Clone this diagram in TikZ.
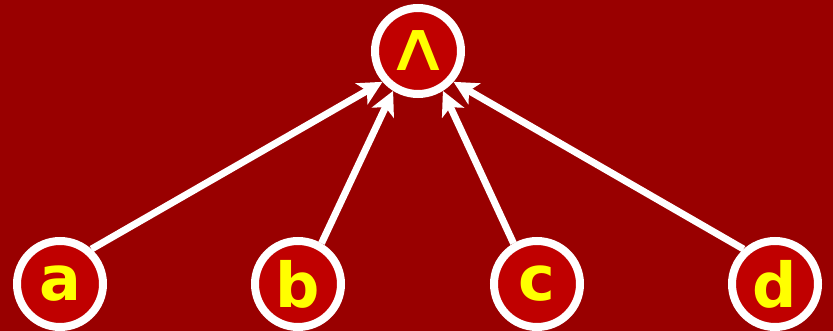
\documentclass[tikz,border=0pt]{standalone}
\usepackage{fontspec}
\setmainfont{DejaVu Sans}
\usetikzlibrary{arrows.meta}
\definecolor{bg}{HTML}{990000}
\definecolor{nodefill}{HTML}{C00000}
\definecolor{txt}{HTML}{FFFF00}
\begin{document}
\begin{tikzpicture}[x=1pt,y=-1pt,
  vnode/.style={circle,draw=white,line width=8pt,fill=nodefill,minimum size=86pt,inner sep=0pt,
    text=txt,font=\fontsize{62}{62}\selectfont\bfseries},
  arr/.style={draw=white,line width=7pt,-{Stealth[length=24pt,width=24pt,inset=6pt]}}]
\fill[bg] (0,0) rectangle (833,331);
\useasboundingbox (0,0) rectangle (833,331);
\node[vnode,font=\fontsize{60}{60}\selectfont] (top) at (418,51) {\hspace*{1pt}\scalebox{1.5}[1.15]{∧}};
\node[vnode] (a) at (60,284) {a};
\node[vnode] (b) at (298,284) {b};
\node[vnode] (c) at (537,284) {c};
\node[vnode] (d) at (775,284) {d};
\draw[arr] (a.48) -- (top.221);
\draw[arr] (b.60) -- (top.238);
\draw[arr] (c.120) -- (top.302);
\draw[arr] (d.132) -- (top.319);
\end{tikzpicture}
\end{document}
